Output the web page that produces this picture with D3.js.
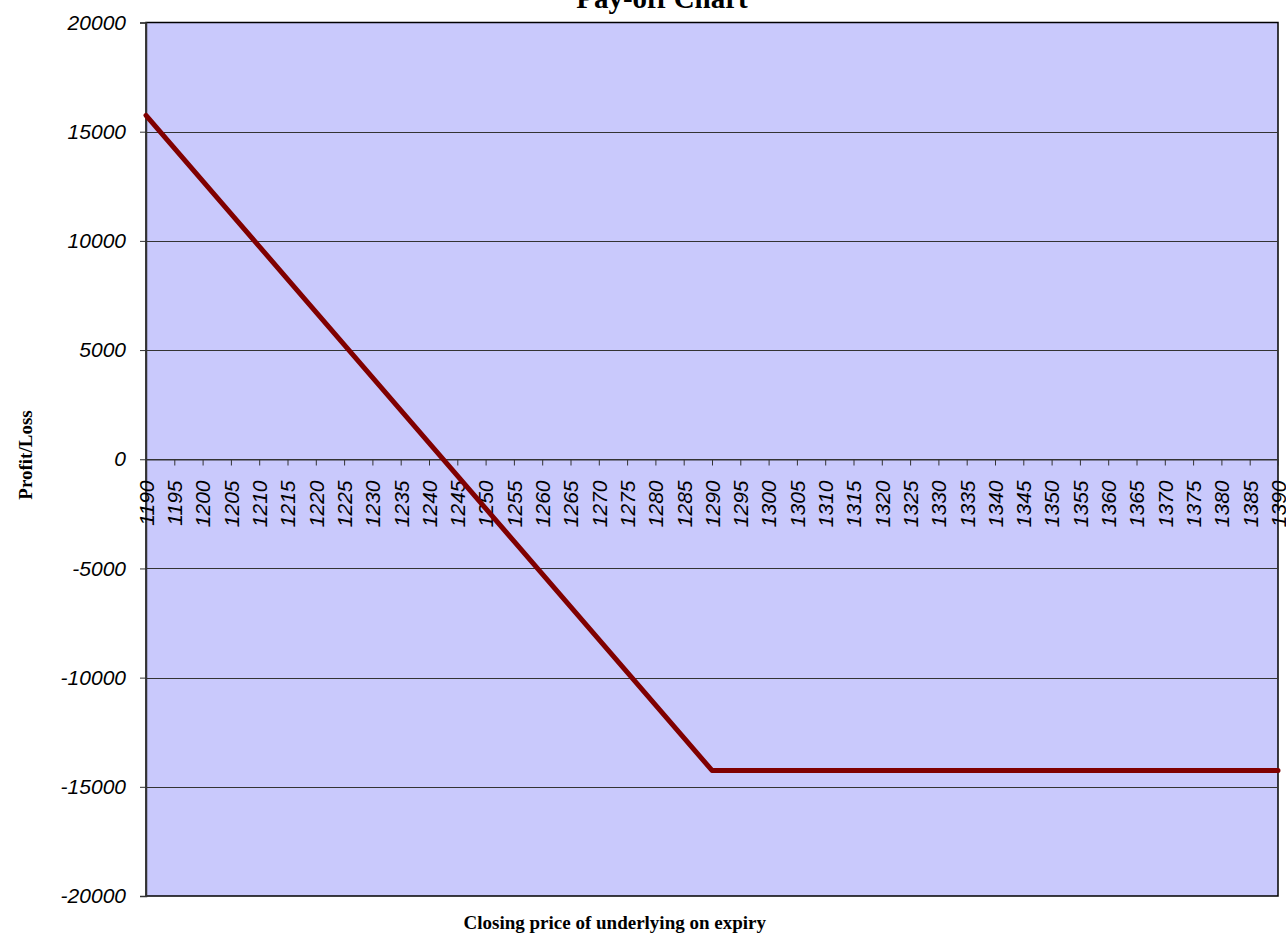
<!DOCTYPE html>
<html lang="en">
<head>
<meta charset="UTF-8">
<title>Pay-off Chart</title>
<style>
  body { margin: 0; background: #fff; }
  svg text { fill: #000; }
</style>
</head>
<body>
<div id="chart"></div>
<script src="https://d3js.org/d3.v7.min.js"></script>
<script>
// closing prices (categories)
var prices = [1190, 1195, 1200, 1205, 1210, 1215, 1220, 1225, 1230, 1235,
              1240, 1245, 1250, 1255, 1260, 1265, 1270, 1275, 1280, 1285,
              1290, 1295, 1300, 1305, 1310, 1315, 1320, 1325, 1330, 1335,
              1340, 1345, 1350, 1355, 1360, 1365, 1370, 1375, 1380, 1385, 1390];
// profit / loss at each price
var payoff = [15750, 14250, 12750, 11250, 9750, 8250, 6750, 5250, 3750, 2250,
              750, -750, -2250, -3750, -5250, -6750, -8250, -9750, -11250, -12750,
              -14250, -14250, -14250, -14250, -14250, -14250, -14250, -14250, -14250, -14250,
              -14250, -14250, -14250, -14250, -14250, -14250, -14250, -14250, -14250, -14250, -14250];
var yTicks = [-20000, -15000, -10000, -5000, 0, 5000, 10000, 15000, 20000];

var width = 1286, height = 938;
var pLeft = 146, pRight = 1278, pTop = 22.5, pBottom = 896;

var svg = d3.select("#chart").append("svg")
    .attr("width", width)
    .attr("height", height);

var x = d3.scalePoint().domain(prices).range([pLeft, pRight]).padding(0);
var y = d3.scaleLinear().domain([-20000, 20000]).range([pBottom, pTop]);

// plot area
svg.append("rect")
    .attr("x", pLeft).attr("y", pTop)
    .attr("width", pRight - pLeft).attr("height", pBottom - pTop)
    .attr("fill", "#c9c9fc")
    .attr("stroke", "#000").attr("stroke-width", 1.5);

// gridlines
svg.append("g").selectAll("line")
    .data(yTicks.filter(function(d) { return d != 20000 && d != -20000; }))
    .enter().append("line")
    .attr("x1", pLeft).attr("x2", pRight)
    .attr("y1", function(d) { return Math.round(y(d)) + 0.5; })
    .attr("y2", function(d) { return Math.round(y(d)) + 0.5; })
    .attr("stroke", "#333").attr("stroke-width", 1.2);

// y axis
var yAxis = svg.append("g")
    .attr("transform", "translate(" + pLeft + ",0)")
    .call(d3.axisLeft(y).tickValues(yTicks).tickSize(6).tickPadding(14)
        .tickFormat(function(d) { return String(d); }));
yAxis.select(".domain").attr("stroke", "#333").attr("stroke-width", 1.5);
yAxis.selectAll(".tick line").attr("stroke", "#333");
yAxis.selectAll("text")
    .style("font-family", "Liberation Sans, Arial, sans-serif")
    .style("font-size", "21px")
    .style("font-style", "italic");

// x axis on zero line
var xAxis = svg.append("g")
    .attr("transform", "translate(0," + (Math.round(y(0)) + 0.5) + ")")
    .call(d3.axisBottom(x).tickSize(6).tickSizeOuter(0));
xAxis.select(".domain").attr("stroke", "#333").attr("stroke-width", 1.2);
xAxis.selectAll(".tick line").attr("stroke", "#333");
xAxis.selectAll("text")
    .attr("transform", "rotate(-90)")
    .attr("x", -21).attr("y", 0).attr("dy", "0.35em")
    .style("text-anchor", "end")
    .style("font-family", "Liberation Sans, Arial, sans-serif")
    .style("font-size", "21px")
    .style("font-style", "italic");

// payoff line
var line = d3.line()
    .x(function(d, i) { return x(prices[i]); })
    .y(function(d) { return y(d); });
svg.append("path")
    .datum(payoff)
    .attr("d", line)
    .attr("fill", "none")
    .attr("stroke", "#800000")
    .attr("stroke-width", 5)
    .attr("stroke-linejoin", "round")
    .attr("stroke-linecap", "round");

// titles
svg.append("text")
    .attr("x", 662).attr("y", 8)
    .attr("text-anchor", "middle")
    .style("font-family", "Liberation Serif, Times New Roman, serif")
    .style("font-weight", "bold")
    .style("font-size", "29px")
    .text("Pay-off Chart");

svg.append("text")
    .attr("x", 766).attr("y", 929)
    .attr("text-anchor", "end")
    .style("font-family", "Liberation Serif, Times New Roman, serif")
    .style("font-weight", "bold")
    .style("font-size", "19px")
    .text("Closing price of underlying on expiry");

svg.append("text")
    .attr("transform", "translate(32,455) rotate(-90)")
    .attr("text-anchor", "middle")
    .style("font-family", "Liberation Serif, Times New Roman, serif")
    .style("font-weight", "bold")
    .style("font-size", "19px")
    .text("Profit/Loss");
</script>
</body>
</html>
